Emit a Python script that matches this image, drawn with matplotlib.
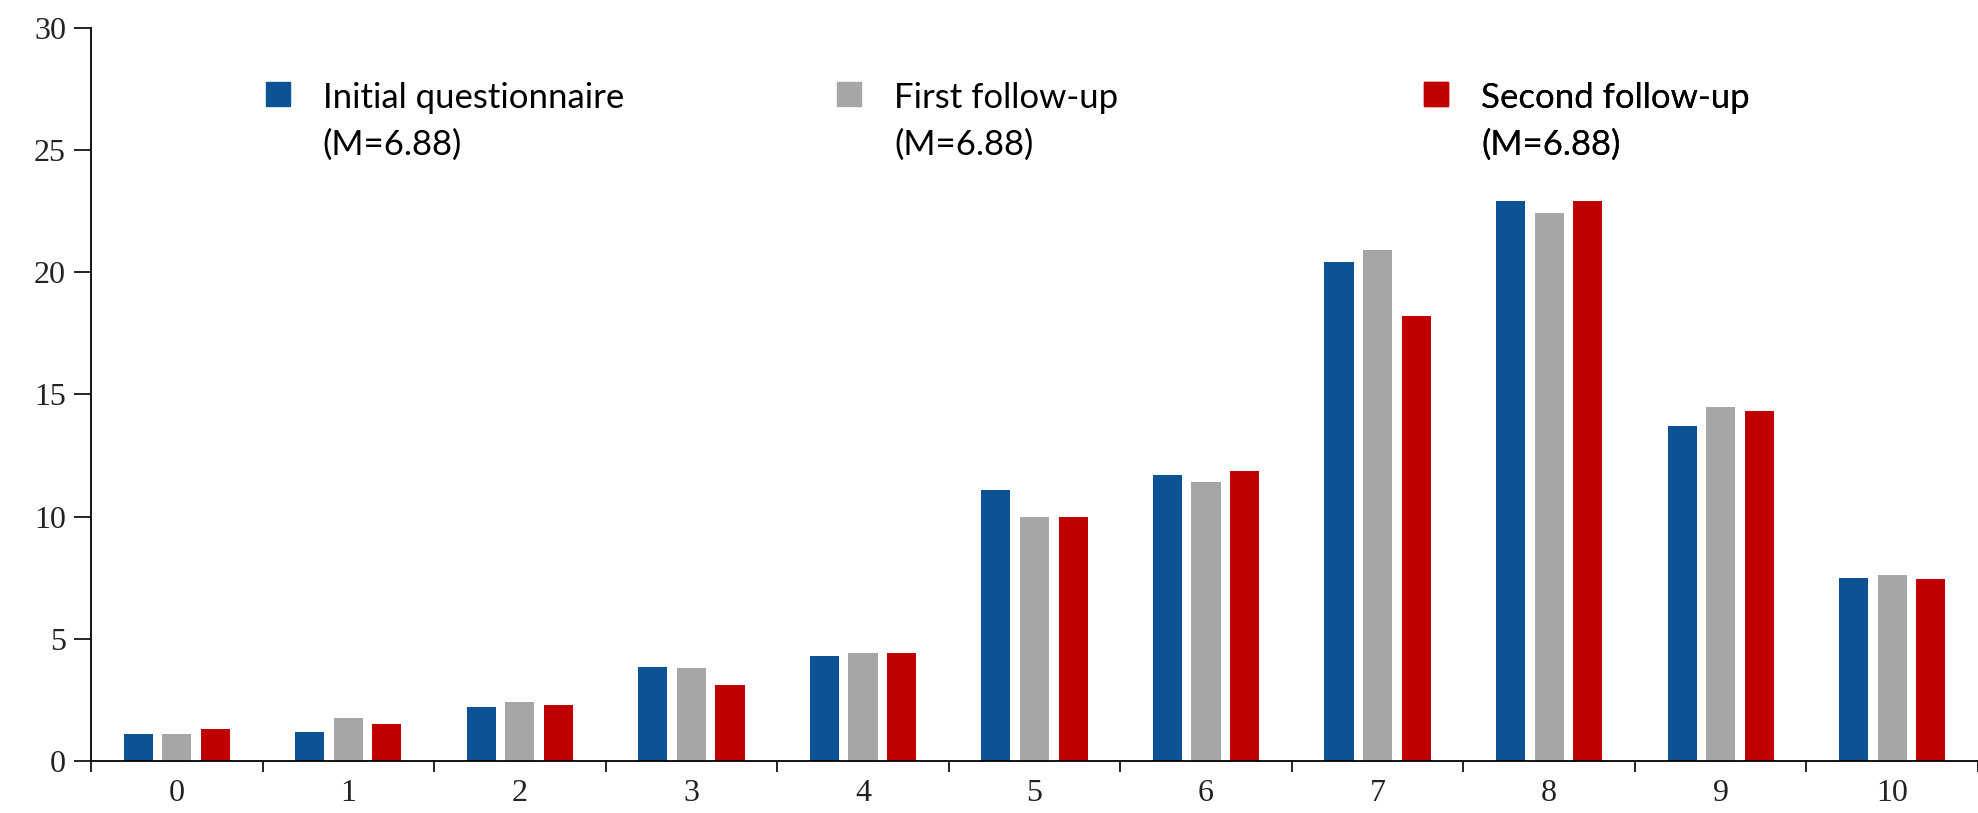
import matplotlib
matplotlib.use("Agg")
import matplotlib.pyplot as plt
import numpy as np

# data
scores = [0, 1, 2, 3, 4, 5, 6, 7, 8, 9, 10]
initial = [1.1, 1.2, 2.2, 3.85, 4.3, 11.1, 11.7, 20.4, 22.9, 13.7, 7.5]
first_fu = [1.1, 1.75, 2.4, 3.8, 4.4, 10.0, 11.4, 20.9, 22.4, 14.5, 7.6]
second_fu = [1.3, 1.5, 2.3, 3.1, 4.4, 10.0, 11.85, 18.2, 22.9, 14.3, 7.45]
labels = ["Initial questionnaire\n(M=6.88)", "First follow-up\n(M=6.88)", "Second follow-up\n(M=6.88)"]
colors = ["#0B5394", "#A6A6A6", "#C00000"]

fig = plt.figure(figsize=(19.78, 8.13), dpi=100)
ax = fig.add_axes([0.046, 0.064, 0.954, 0.902])

x = np.arange(len(scores))
w = 0.17
step = 0.225
bars = []
for i, (vals, c) in enumerate(zip([initial, first_fu, second_fu], colors)):
    b = ax.bar(x + (i - 1) * step, vals, width=w, color=c, zorder=2)
    bars.append(b)

ax.set_xlim(-0.5, 10.5)
ax.set_ylim(0, 30)
ax.set_yticks([0, 5, 10, 15, 20, 25, 30])
ax.set_xticks(x)
ax.set_xticklabels([str(s) for s in scores])
ax.set_xticks(np.arange(-0.5, 11, 1), minor=True)
ax.tick_params(axis="x", which="major", length=0, pad=13)
ax.tick_params(axis="x", which="minor", length=8, width=1.2, direction="out")
ax.tick_params(axis="y", length=12, width=1.2, direction="out", pad=6)
for lab in ax.get_xticklabels() + ax.get_yticklabels():
    lab.set_fontfamily("Liberation Serif")
    lab.set_fontsize(23)
    lab.set_color("#222222")

for s in ["top", "right"]:
    ax.spines[s].set_visible(False)
for s in ["left", "bottom"]:
    ax.spines[s].set_linewidth(1.3)

# legend, one entry per series
anchors = [0.086, 0.389, 0.700]
for b, lab, ax_x in zip(bars, labels, anchors):
    h = plt.Line2D([], [], marker="s", linestyle="", color=b.patches[0].get_facecolor(), markersize=17)
    leg = ax.legend([h], [lab], loc="upper left", bbox_to_anchor=(ax_x, 0.945), frameon=False,
                    prop={"family": "Lato", "size": 25}, handlelength=0.6, handletextpad=1.0,
                    borderaxespad=0, labelspacing=0)
    for t in leg.get_texts():
        t.set_linespacing(1.55)
    # square marker sits next to the first line, not centred
    item = leg._legend_handle_box.get_children()[0].get_children()[0]
    item.align = "top"
    ax.add_artist(leg)

fig.savefig("out.png", dpi=100)
